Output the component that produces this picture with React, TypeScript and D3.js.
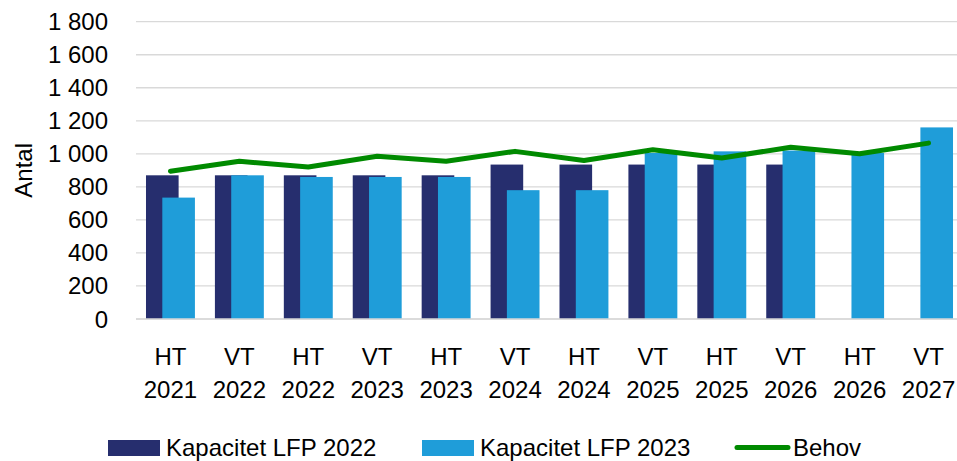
import React, { useEffect, useRef } from "react";
import * as d3 from "d3";

const terms = ["HT", "VT", "HT", "VT", "HT", "VT", "HT", "VT", "HT", "VT", "HT", "VT"];
const years = ["2021", "2022", "2022", "2023", "2023", "2024", "2024", "2025", "2025", "2026", "2026", "2027"];
const kap2022 = [870, 870, 870, 870, 870, 935, 935, 935, 935, 935, null, null];
const kap2023 = [735, 870, 860, 860, 860, 780, 780, 1005, 1015, 1020, 1005, 1160];
const behov = [895, 955, 920, 985, 955, 1015, 960, 1025, 975, 1040, 1000, 1065];
const yTicks = [0, 200, 400, 600, 800, 1000, 1200, 1400, 1600, 1800];

const W = 957, H = 461;
const FONT = "'Liberation Sans', Arial, sans-serif";

export default function App() {
  const ref = useRef(null);

  useEffect(() => {
    const svg = d3.select(ref.current);
    svg.selectAll("*").remove();

    const cats = terms.map((t, i) => i);
    const x = d3.scaleBand().domain(cats).range([136, 963]).paddingInner(0.29).paddingOuter(0.145);
    const y = d3.scaleLinear().domain([0, 1800]).range([319, 21.7]);
    const bw = x.bandwidth();

    // gridlines
    svg.append("g").selectAll("line")
      .data(yTicks)
      .enter().append("line")
      .attr("x1", 136).attr("x2", 963)
      .attr("y1", d => y(d)).attr("y2", d => y(d))
      .attr("stroke", "#d9d9d9").attr("stroke-width", 1.3);

    // y labels
    const fmt = d => d >= 1000 ? `${Math.floor(d / 1000)} ${String(d % 1000).padStart(3, "0")}` : String(d);
    svg.append("g").selectAll("text")
      .data(yTicks)
      .enter().append("text")
      .attr("x", 108).attr("y", d => y(d) + 8.5)
      .attr("text-anchor", "end")
      .style("font-family", FONT).style("font-size", "24px").attr("fill", "#000")
      .text(fmt);

    svg.append("text")
      .attr("transform", `translate(32, ${(y(0) + y(1800)) / 2}) rotate(-90)`)
      .attr("text-anchor", "middle")
      .style("font-family", FONT).style("font-size", "24px")
      .text("Antal");

    // bars 2022
    svg.append("g").selectAll("rect")
      .data(kap2022.map((v, i) => ({ v, i })).filter(d => d.v != null))
      .enter().append("rect")
      .attr("x", d => x(d.i)).attr("width", bw * 2 / 3)
      .attr("y", d => y(d.v)).attr("height", d => y(0) - y(d.v))
      .attr("fill", "#262e6e");

    // bars 2023
    svg.append("g").selectAll("rect")
      .data(kap2023.map((v, i) => ({ v, i })))
      .enter().append("rect")
      .attr("x", d => x(d.i) + bw / 3).attr("width", bw * 2 / 3)
      .attr("y", d => y(d.v)).attr("height", d => y(0) - y(d.v))
      .attr("fill", "#1f9dd9");

    // axis line
    svg.append("line")
      .attr("x1", 136).attr("x2", 963)
      .attr("y1", y(0)).attr("y2", y(0))
      .attr("stroke", "#d9d9d9").attr("stroke-width", 1.3);

    // behov line
    const line = d3.line().x((d, i) => x(i) + bw / 2).y(d => y(d));
    svg.append("path")
      .datum(behov)
      .attr("d", line)
      .attr("fill", "none")
      .attr("stroke", "#008a00")
      .attr("stroke-width", 5)
      .attr("stroke-linecap", "round")
      .attr("stroke-linejoin", "round");

    // x labels
    const xl = svg.append("g").selectAll("text")
      .data(cats)
      .enter().append("text")
      .attr("text-anchor", "middle")
      .style("font-family", FONT).style("font-size", "24px");
    xl.append("tspan").attr("x", d => x(d) + bw / 2).attr("y", 365).text(d => terms[d]);
    xl.append("tspan").attr("x", d => x(d) + bw / 2).attr("y", 398).text(d => years[d]);

    // legend
    const lg = svg.append("g").style("font-family", FONT).style("font-size", "24px");
    lg.append("rect").attr("x", 108).attr("y", 440).attr("width", 52).attr("height", 16).attr("fill", "#262e6e");
    lg.append("text").attr("x", 166).attr("y", 456).text("Kapacitet LFP 2022");
    lg.append("rect").attr("x", 422).attr("y", 440).attr("width", 52).attr("height", 16).attr("fill", "#1f9dd9");
    lg.append("text").attr("x", 480).attr("y", 456).text("Kapacitet LFP 2023");
    lg.append("line").attr("x1", 737).attr("x2", 788).attr("y1", 447.5).attr("y2", 447.5)
      .attr("stroke", "#008a00").attr("stroke-width", 5).attr("stroke-linecap", "round");
    lg.append("text").attr("x", 793).attr("y", 456).text("Behov");
  }, []);

  return (
    <svg ref={ref} width={W} height={H} style={{ position: "absolute", left: 0, top: 0, background: "#fff" }}></svg>
  );
}
